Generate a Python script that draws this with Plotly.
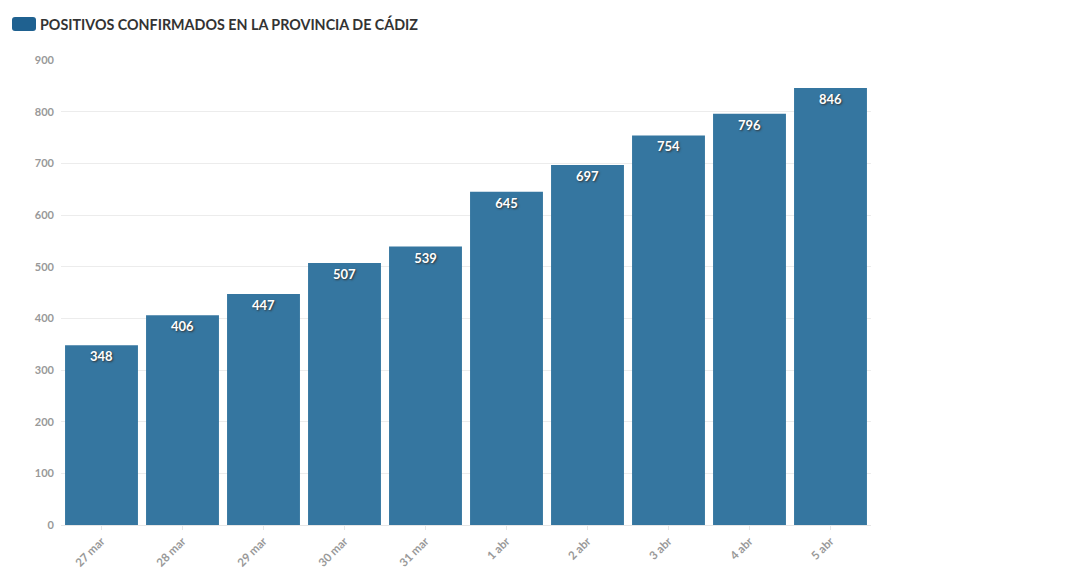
import plotly.graph_objects as go

categories = ["27 mar", "28 mar", "29 mar", "30 mar", "31 mar",
              "1 abr", "2 abr", "3 abr", "4 abr", "5 abr"]
values = [348, 406, 447, 507, 539, 645, 697, 754, 796, 846]
series_name = "POSITIVOS CONFIRMADOS EN LA PROVINCIA DE CÁDIZ"
y_ticks = [0, 100, 200, 300, 400, 500, 600, 700, 800, 900]

bar_color = "#3576a0"

fig = go.Figure()
fig.add_trace(go.Bar(
    x=categories, y=values, name=series_name,
    marker=dict(color=bar_color, line=dict(width=0)),
    text=[str(v) for v in values],
    textposition="inside", insidetextanchor="end",
    textangle=0,
    textfont=dict(family="Lato", size=13, color="white", weight="bold",
                  shadow="1px 1px 2px #333"),
    cliponaxis=False,
))

fig.update_layout(
    width=1080, height=583,
    margin=dict(l=53, r=217, t=52, b=66),
    paper_bgcolor="white", plot_bgcolor="white",
    bargap=0.1,
    showlegend=False,
    font=dict(family="Lato", color="#999999"),
    xaxis=dict(
        tickangle=-45, tickfont=dict(size=11.5, color="#999999", weight="bold"),
        showgrid=False, showline=True, linecolor="#e6e6e6", linewidth=1,
        ticks="outside", ticklen=4, tickcolor="#e6e6e6",
    ),
    yaxis=dict(
        range=[0, 900], tickvals=y_ticks,
        tickfont=dict(size=11, color="#999999", weight="bold"),
        showgrid=True, gridcolor="#ececec", gridwidth=1,
        zeroline=False, ticks="", ticklabelstandoff=6,
    ),
    shapes=[dict(
        type="path", xref="paper", yref="paper",
        xsizemode="pixel", ysizemode="pixel",
        xanchor=0, yanchor=1,
        path="M -46,43 L -28,43 Q -25,43 -25,40 L -25,32 Q -25,29 -28,29 "
             "L -46,29 Q -49,29 -49,32 L -49,40 Q -49,43 -46,43 Z",
        fillcolor="#1f6190", line=dict(width=0),
    )],
    annotations=[dict(
        text=series_name, xref="paper", yref="paper",
        x=0, y=1, xshift=-23, yshift=36, xanchor="left", yanchor="middle",
        showarrow=False,
        font=dict(family="Lato", size=14.3, color="#333333", weight="bold"),
    )],
)

fig.write_html("out.html")
